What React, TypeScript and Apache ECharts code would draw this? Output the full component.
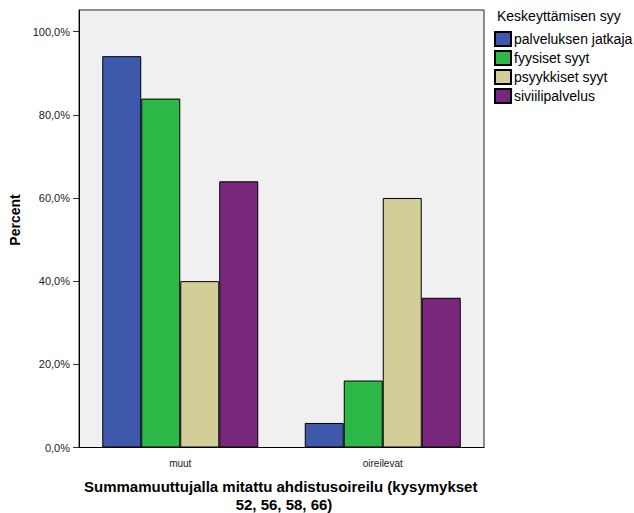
import React, { useEffect, useRef } from "react";
import * as echarts from "echarts";

const categories = ["muut", "oireilevat"];
const seriesNames = ["palveluksen jatkaja", "fyysiset syyt", "psyykkiset syyt", "siviilipalvelus"];
const palveluksenJatkaja = [94.1, 5.9];
const fyysisetSyyt = [83.9, 16.1];
const psyykkisetSyyt = [40.0, 60.0];
const siviilipalvelus = [64.0, 36.0];
const yTicks = [0, 20, 40, 60, 80, 100];
const colors = ["#3E58AC", "#2EB848", "#D3CE97", "#79277C"];

export default function App() {
  const ref = useRef<HTMLDivElement>(null);
  useEffect(() => {
    document.body.style.margin = "0";
    const chart = echarts.init(ref.current!, null, { renderer: "svg" });
    const values = [palveluksenJatkaja, fyysisetSyyt, psyykkisetSyyt, siviilipalvelus];
    const font = "Arial, 'Liberation Sans', sans-serif";
    chart.setOption({
      animation: false,
      backgroundColor: "#fff",
      textStyle: { fontFamily: font },
      grid: {
        left: 79,
        right: 150,
        top: 10,
        bottom: 65.5,
        show: true,
        backgroundColor: "#F0F0F0",
        borderColor: "#222",
        borderWidth: 1,
      },
      legend: {
        orient: "vertical",
        left: 494,
        top: 31,
        padding: 0,
        itemWidth: 16,
        itemHeight: 14,
        itemGap: 3,
        icon: "rect",
        textStyle: { fontSize: 14, lineHeight: 14, color: "#000", fontFamily: font, padding: [0, 0, 0, -2] },
        data: seriesNames,
      },
      xAxis: {
        type: "category",
        data: categories,
        axisLine: { lineStyle: { color: "#000", width: 1 } },
        axisTick: { alignWithLabel: true, length: 7, lineStyle: { color: "#333" } },
        axisLabel: { fontSize: 10, color: "#222", margin: 11, fontFamily: font },
      },
      yAxis: {
        type: "value",
        min: 0,
        max: 105.2,
        interval: 20,
        splitLine: { show: false },
        axisLine: { show: true, lineStyle: { color: "#000", width: 1 } },
        axisTick: { show: true, length: 6, customValues: yTicks, lineStyle: { color: "#333" } },
        axisLabel: {
          fontSize: 11,
          color: "#222",
          margin: 9,
          fontFamily: font,
          customValues: yTicks,
          formatter: (v: number) => (v > 100.01 ? "" : v.toFixed(1).replace(".", ",") + "%"),
        },
      },
      series: seriesNames.map((name, i) => ({
        name,
        type: "bar",
        data: values[i],
        barWidth: 39,
        barGap: "0%",
        itemStyle: { color: colors[i], borderColor: "#000", borderWidth: 1 },
      })),
      graphic: [
        {
          type: "text",
          x: 497,
          y: 16,
          style: {
            text: "Keskeyttämisen syy",
            fontSize: 14,
            fill: "#000",
            fontFamily: font,
            verticalAlign: "middle",
          },
        },
        {
          type: "text",
          x: 15,
          y: 220,
          rotation: Math.PI / 2,
          style: {
            text: "Percent",
            fontSize: 14,
            fontWeight: "bold",
            fill: "#000",
            fontFamily: font,
            align: "center",
            verticalAlign: "middle",
          },
        },
        {
          type: "text",
          x: 84,
          y: 486.5,
          style: {
            text: "Summamuuttujalla mitattu ahdistusoireilu (kysymykset",
            fontSize: 15,
            fontWeight: "bold",
            fill: "#000",
            fontFamily: font,
            align: "left",
            verticalAlign: "middle",
            width: 403,
            overflow: "truncate",
            ellipsis: "",
          },
        },
        {
          type: "text",
          x: 284,
          y: 504.5,
          style: {
            text: "52, 56, 58, 66)",
            fontSize: 15,
            fontWeight: "bold",
            fill: "#000",
            fontFamily: font,
            align: "center",
            verticalAlign: "middle",
          },
        },
      ],
    });
    return () => chart.dispose();
  }, []);
  return <div ref={ref} style={{ width: 634, height: 513 }} />;
}
